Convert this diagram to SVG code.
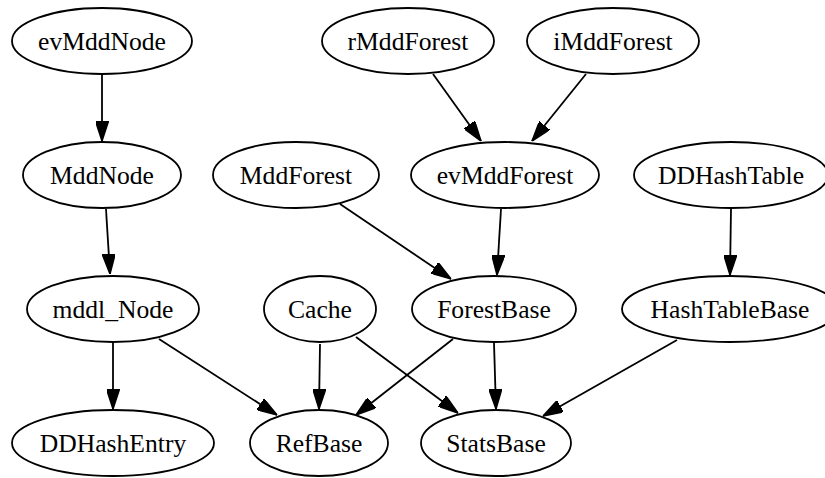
<svg xmlns="http://www.w3.org/2000/svg" width="825" height="478" viewBox="0 0 825 478">
<style>
.n ellipse{fill:#fff;stroke:#000;stroke-width:1.8}
.n text{font-family:"Liberation Serif","Times New Roman",serif;font-size:25.6px;text-anchor:middle;fill:#000}
.e path{fill:none;stroke:#000;stroke-width:1.8;marker-end:url(#ah)}
</style>
<defs>
<marker id="ah" viewBox="0 0 20 13" refX="20" refY="6.5" markerWidth="20" markerHeight="13" markerUnits="userSpaceOnUse" orient="auto">
<path d="M0,0 L20,6.5 L0,13 z" fill="#000" stroke="#000" stroke-width="1.5"/>
</marker>
</defs>
<rect width="825" height="478" fill="#fff"/>
<g class="e" id="edges">
<path d="M102,74 L102,141"/>
<path d="M106,209 L110,274"/>
<path d="M433,74 L481,141"/>
<path d="M586,74 L532,141"/>
<path d="M340,204 L451,279"/>
<path d="M501,209 L497,275"/>
<path d="M731,209 L730,275"/>
<path d="M113,343 L113,409"/>
<path d="M159,339 L277,415"/>
<path d="M320,344 L319,409"/>
<path d="M356,337 L458,413"/>
<path d="M453,339 L356,415"/>
<path d="M494,343 L496,409"/>
<path d="M677,340 L543,416"/>
</g>
<g class="n" id="evMddNode"><ellipse cx="102" cy="41" rx="90" ry="33"/><text x="102" y="50">evMddNode</text></g>
<g class="n" id="rMddForest"><ellipse cx="408" cy="41" rx="86" ry="33"/><text x="408" y="50">rMddForest</text></g>
<g class="n" id="iMddForest"><ellipse cx="613" cy="41" rx="86" ry="33"/><text x="613" y="50">iMddForest</text></g>
<g class="n" id="MddNode"><ellipse cx="102" cy="175" rx="79" ry="33"/><text x="102" y="184">MddNode</text></g>
<g class="n" id="MddForest"><ellipse cx="296" cy="175" rx="83" ry="33"/><text x="296" y="184">MddForest</text></g>
<g class="n" id="evMddForest"><ellipse cx="505" cy="175" rx="94" ry="33"/><text x="505" y="184">evMddForest</text></g>
<g class="n" id="DDHashTable"><ellipse cx="731" cy="175" rx="97" ry="33"/><text x="731" y="184">DDHashTable</text></g>
<g class="n" id="mddl_Node"><ellipse cx="113" cy="309" rx="86" ry="33"/><text x="113" y="318">mddl_Node</text></g>
<g class="n" id="Cache"><ellipse cx="320" cy="309" rx="56" ry="33"/><text x="320" y="318">Cache</text></g>
<g class="n" id="ForestBase"><ellipse cx="494" cy="309" rx="82" ry="33"/><text x="494" y="318">ForestBase</text></g>
<g class="n" id="HashTableBase"><ellipse cx="730" cy="309" rx="108" ry="33"/><text x="730" y="318">HashTableBase</text></g>
<g class="n" id="DDHashEntry"><ellipse cx="113" cy="443" rx="101" ry="33"/><text x="113" y="452">DDHashEntry</text></g>
<g class="n" id="RefBase"><ellipse cx="319" cy="443" rx="69" ry="33"/><text x="319" y="452">RefBase</text></g>
<g class="n" id="StatsBase"><ellipse cx="496" cy="443" rx="75" ry="33"/><text x="496" y="452">StatsBase</text></g>
</svg>
